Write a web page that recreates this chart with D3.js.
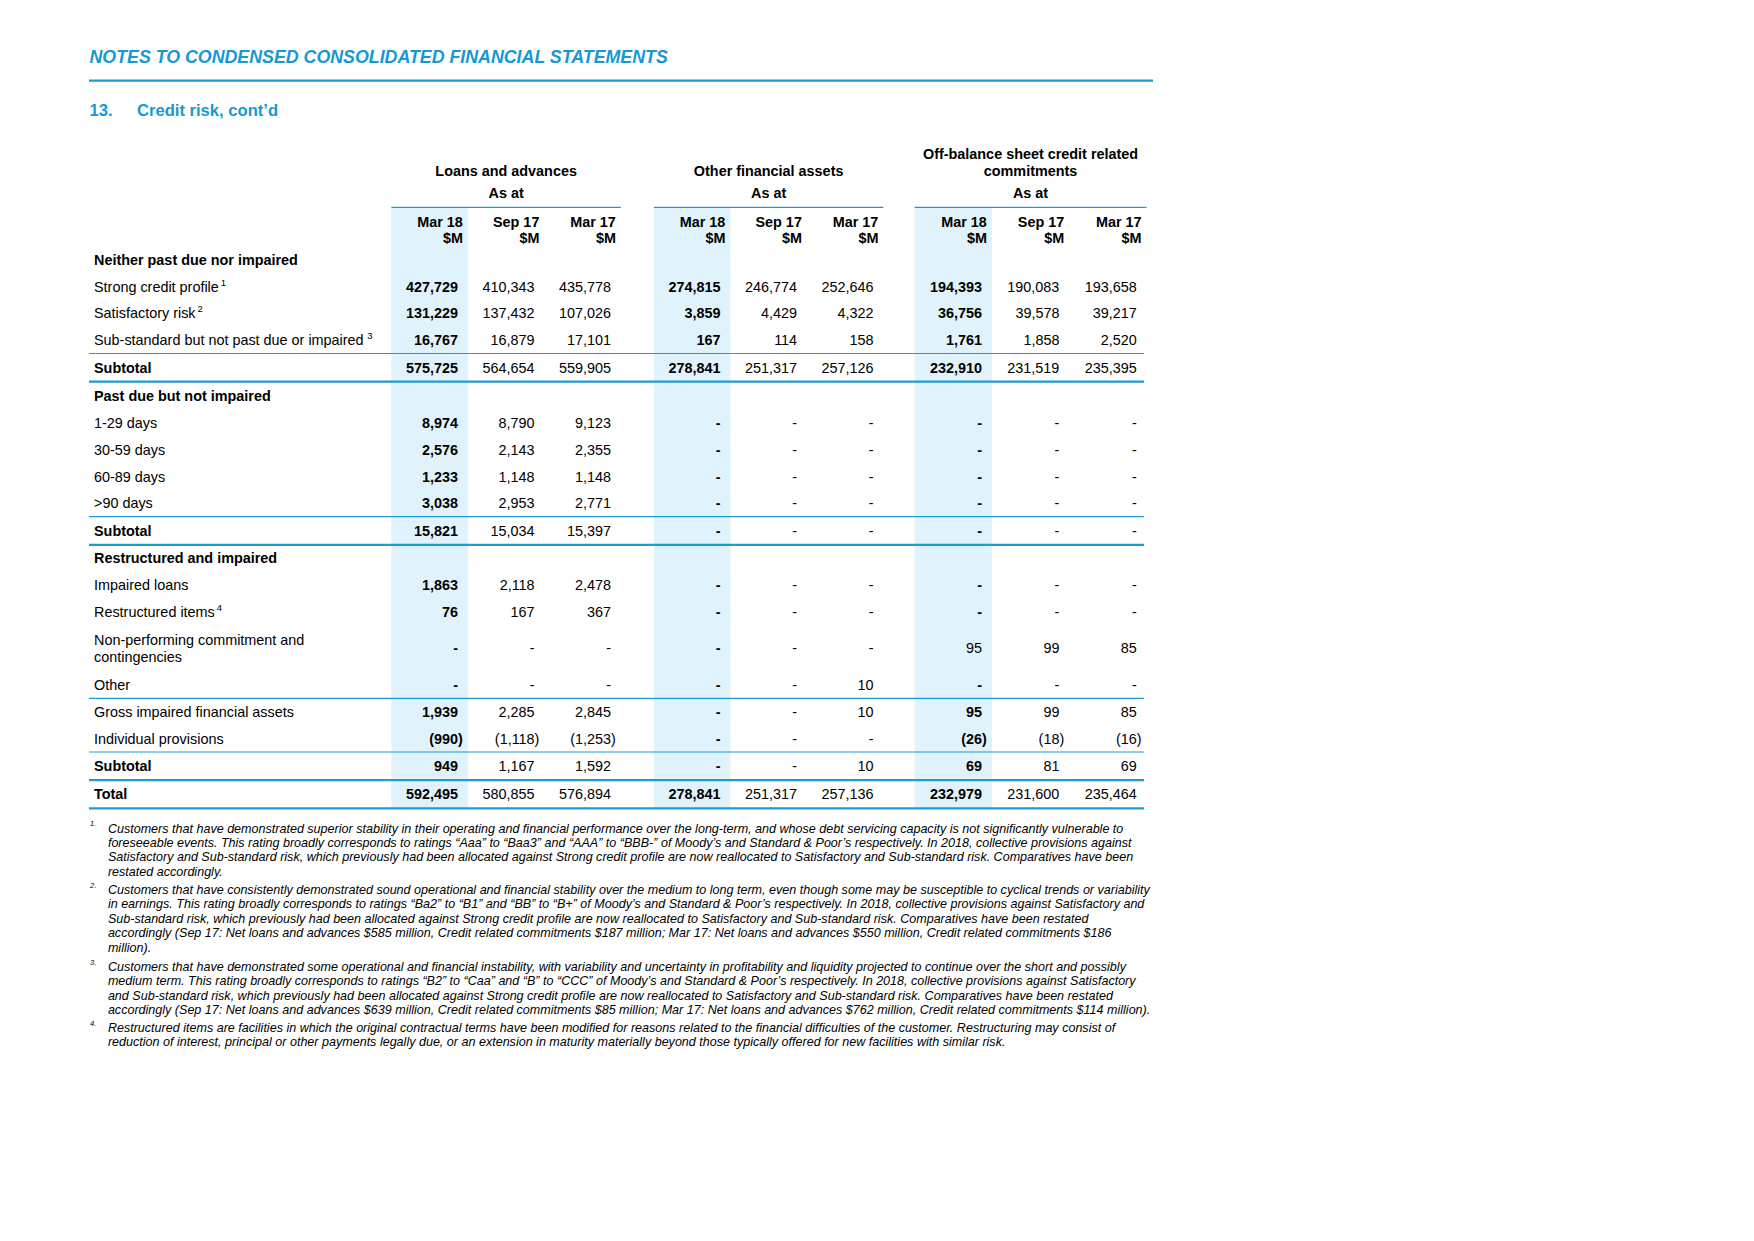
<!DOCTYPE html>
<html><head><meta charset="utf-8">
<script src="https://cdn.jsdelivr.net/npm/d3@7"></script>
<style>body{margin:0;background:#fff}svg{display:block}</style>
</head><body><svg id="chart"></svg>
<script>
// ---------------- DATA ----------------
const pageHeader = "NOTES TO CONDENSED CONSOLIDATED FINANCIAL STATEMENTS";
const noteNumber = "13.";
const noteTitle = "Credit risk, cont’d";
const groupTitles = [["Loans and advances"], ["Other financial assets"], ["Off-balance sheet credit related", "commitments"]];
const asAtLabel = "As at";
const periods = ["Mar 18", "Sep 17", "Mar 17"];
const unitLabel = "$M";

const rowLabels = [
  "Neither past due nor impaired", "Strong credit profile", "Satisfactory risk",
  "Sub-standard but not past due or impaired", "Subtotal",
  "Past due but not impaired", "1-29 days", "30-59 days", "60-89 days", ">90 days", "Subtotal",
  "Restructured and impaired", "Impaired loans", "Restructured items",
  "Non-performing commitment and|contingencies", "Other",
  "Gross impaired financial assets", "Individual provisions", "Subtotal", "Total"
];
const rowFootnoteRefs = ["", "1", "2", " 3", "", "", "", "", "", "", "", "", "", "4", "", "", "", "", "", ""];
const boldRows = [0, 4, 5, 10, 11, 18, 19];

// "" = blank cell, null = dash
const loansMar18 = ["", 427729, 131229, 16767, 575725, "", 8974, 2576, 1233, 3038, 15821, "", 1863, 76, null, null, 1939, -990, 949, 592495];
const loansSep17 = ["", 410343, 137432, 16879, 564654, "", 8790, 2143, 1148, 2953, 15034, "", 2118, 167, null, null, 2285, -1118, 1167, 580855];
const loansMar17 = ["", 435778, 107026, 17101, 559905, "", 9123, 2355, 1148, 2771, 15397, "", 2478, 367, null, null, 2845, -1253, 1592, 576894];
const otherMar18 = ["", 274815, 3859, 167, 278841, "", null, null, null, null, null, "", null, null, null, null, null, null, null, 278841];
const otherSep17 = ["", 246774, 4429, 114, 251317, "", null, null, null, null, null, "", null, null, null, null, null, null, null, 251317];
const otherMar17 = ["", 252646, 4322, 158, 257126, "", null, null, null, null, null, "", null, null, null, 10, 10, null, 10, 257136];
const offMar18 = ["", 194393, 36756, 1761, 232910, "", null, null, null, null, null, "", null, null, 95, null, 95, -26, 69, 232979];
const offSep17 = ["", 190083, 39578, 1858, 231519, "", null, null, null, null, null, "", null, null, 99, null, 99, -18, 81, 231600];
const offMar17 = ["", 193658, 39217, 2520, 235395, "", null, null, null, null, null, "", null, null, 85, null, 85, -16, 69, 235464];
const seriesByGroup = [[loansMar18, loansSep17, loansMar17], [otherMar18, otherSep17, otherMar17], [offMar18, offSep17, offMar17]];
// cells of the Mar 18 column printed in regular weight: [group, row]
const regularWeightCells = [[2, 14]];

const footnotes = [
  ["Customers that have demonstrated superior stability in their operating and financial performance over the long-term, and whose debt servicing capacity is not significantly vulnerable to",
   "foreseeable events. This rating broadly corresponds to ratings “Aaa” to “Baa3” and “AAA” to “BBB-” of Moody’s and Standard & Poor’s respectively. In 2018, collective provisions against",
   "Satisfactory and Sub-standard risk, which previously had been allocated against Strong credit profile are now reallocated to Satisfactory and Sub-standard risk. Comparatives have been",
   "restated accordingly."],
  ["Customers that have consistently demonstrated sound operational and financial stability over the medium to long term, even though some may be susceptible to cyclical trends or variability",
   "in earnings. This rating broadly corresponds to ratings “Ba2” to “B1” and “BB” to “B+” of Moody’s and Standard & Poor’s respectively. In 2018, collective provisions against Satisfactory and",
   "Sub-standard risk, which previously had been allocated against Strong credit profile are now reallocated to Satisfactory and Sub-standard risk. Comparatives have been restated",
   "accordingly (Sep 17: Net loans and advances $585 million, Credit related commitments $187 million; Mar 17: Net loans and advances $550 million, Credit related commitments $186",
   "million)."],
  ["Customers that have demonstrated some operational and financial instability, with variability and uncertainty in profitability and liquidity projected to continue over the short and possibly",
   "medium term. This rating broadly corresponds to ratings “B2” to “Caa” and “B” to “CCC” of Moody’s and Standard & Poor’s respectively. In 2018, collective provisions against Satisfactory",
   "and Sub-standard risk, which previously had been allocated against Strong credit profile are now reallocated to Satisfactory and Sub-standard risk. Comparatives have been restated",
   "accordingly (Sep 17: Net loans and advances $639 million, Credit related commitments $85 million; Mar 17: Net loans and advances $762 million, Credit related commitments $114 million)."],
  ["Restructured items are facilities in which the original contractual terms have been modified for reasons related to the financial difficulties of the customer. Restructuring may consist of",
   "reduction of interest, principal or other payments legally due, or an extension in maturity materially beyond those typically offered for new facilities with similar risk."]
];

// ---------------- LAYOUT ----------------
const W = 1754, H = 1241;
const FONT = "'Liberation Sans', Arial, Helvetica, sans-serif";
const BLUE = "#1598d4";
const LINE = "#1e9bd0";
const SHADE = "#e0f2fb";
const FS = 14.4;

const svg = d3.select("#chart").attr("width", W).attr("height", H).style("font-family", FONT);
svg.append("rect").attr("width", W).attr("height", H).attr("fill", "#fff");

// Page header
svg.append("text").attr("x", 89.5).attr("y", 62.8).attr("fill", BLUE)
  .attr("font-size", 17.8).attr("font-weight", "bold").attr("font-style", "italic").text(pageHeader);
svg.append("line").attr("x1", 89).attr("x2", 1153).attr("y1", 80.7).attr("y2", 80.7)
  .attr("stroke", LINE).attr("stroke-width", 2.2);
svg.append("text").attr("x", 89.5).attr("y", 116.3).attr("fill", BLUE)
  .attr("font-size", 16.6).attr("font-weight", "bold").text(noteNumber);
svg.append("text").attr("x", 137).attr("y", 116.3).attr("fill", BLUE)
  .attr("font-size", 16.6).attr("font-weight", "bold").text(noteTitle);

// Column scales (one band scale per group)
const groupLeft = [391.4, 653.9, 914.6];
const colW = [76.5, 76.5, 77.3];
const xScales = groupLeft.map((l, g) => d3.scaleBand().domain(periods).range([l, l + 3 * colW[g]]).paddingInner(0).paddingOuter(0));

// Row scale: cumulative row heights
const rowHeights = rowLabels.map((lab, i) => {
  if (lab.includes("|")) return 46.7;
  if ([4, 5, 10, 18, 19].includes(i)) return 28.2;
  if ([3, 9, 15, 17].includes(i)) return 27.0;
  return 26.6;
});
const tableTop = 246.7;
const rowTops = [tableTop];
rowHeights.forEach((h, i) => rowTops.push(rowTops[i] + h));
const yTop = d3.scaleOrdinal().domain(d3.range(rowLabels.length + 1)).range(rowTops);
const yMid = i => yTop(i) + rowHeights[i] / 2;
const tableLeft = 89, tableRight = 1144;
const headerLine = 207.3;
const BASE = 5.1; // center -> baseline offset

// Shading for current period columns
xScales.forEach(xs => {
  svg.append("rect").attr("x", xs(periods[0])).attr("width", xs.bandwidth())
    .attr("y", headerLine).attr("height", yTop(rowLabels.length) - headerLine).attr("fill", SHADE);
});

// Group headers
xScales.forEach((xs, g) => {
  const [r0, r1] = xs.range();
  const cx = (r0 + r1) / 2;
  const lines = groupTitles[g];
  lines.forEach((t, k) => {
    svg.append("text").attr("x", cx).attr("y", 171 - (lines.length - 1 - k) * 17 + BASE)
      .attr("text-anchor", "middle").attr("font-size", FS).attr("font-weight", "bold").text(t);
  });
  svg.append("text").attr("x", cx).attr("y", 193.3 + BASE).attr("text-anchor", "middle")
    .attr("font-size", FS).attr("font-weight", "bold").text(asAtLabel);
  svg.append("line").attr("x1", r0).attr("x2", r1).attr("y1", headerLine).attr("y2", headerLine)
    .attr("stroke", LINE).attr("stroke-width", 1.2);
  periods.forEach(p => {
    const xr = xs(p) + xs.bandwidth() - 5;
    svg.append("text").attr("x", xr).attr("y", 221.7 + BASE).attr("text-anchor", "end")
      .attr("font-size", FS).attr("font-weight", "bold").text(p);
    svg.append("text").attr("x", xr).attr("y", 238.3 + BASE).attr("text-anchor", "end")
      .attr("font-size", FS).attr("font-weight", "bold").text(unitLabel);
  });
});

// Row lines
const thinAbove = [4, 10, 16, 18];
const thickAbove = [5, 11, 19, 20];
thinAbove.forEach(i => svg.append("line").attr("x1", tableLeft).attr("x2", tableRight)
  .attr("y1", yTop(i)).attr("y2", yTop(i)).attr("stroke", LINE).attr("stroke-width", 1.2));
thickAbove.forEach(i => svg.append("line").attr("x1", tableLeft).attr("x2", tableRight)
  .attr("y1", yTop(i)).attr("y2", yTop(i)).attr("stroke", LINE).attr("stroke-width", 2.2));

// Row labels
rowLabels.forEach((lab, i) => {
  const bold = boldRows.includes(i);
  const parts = lab.split("|");
  parts.forEach((p, k) => {
    const y = yMid(i) + (k - (parts.length - 1) / 2) * 17 + BASE;
    const t = svg.append("text").attr("x", 94).attr("y", y).attr("font-size", FS)
      .attr("font-weight", bold ? "bold" : "normal").text(p);
    if (k === parts.length - 1 && rowFootnoteRefs[i]) {
      const ref = rowFootnoteRefs[i];
      t.append("tspan").attr("font-size", 9.5).attr("dx", ref.startsWith(" ") ? 1 : 2).attr("dy", -6)
        .text(ref.startsWith(" ") ? "\u00a0" + ref.trim() : ref);
    }
  });
});

// Values
const fmt = d3.format(",");
const measure = svg.append("text").attr("font-size", FS).attr("font-weight", "bold").text(")");
const parenW = measure.node().getComputedTextLength();
measure.remove();

seriesByGroup.forEach((series, g) => {
  const xs = xScales[g];
  series.forEach((vals, c) => {
    const xr = xs(periods[c]) + xs.bandwidth() - 5 - parenW;
    vals.forEach((v, i) => {
      if (v === "") return;
      let bold = c === 0 && !regularWeightCells.some(([gg, rr]) => gg === g && rr === i);
      let txt, x = xr;
      if (v === null) txt = "-";
      else if (v < 0) { txt = "(" + fmt(-v) + ")"; x = xr + parenW; }
      else txt = fmt(v);
      svg.append("text").attr("x", x).attr("y", yMid(i) + BASE).attr("text-anchor", "end")
        .attr("font-size", FS).attr("font-weight", bold ? "bold" : "normal").text(txt);
    });
  });
});

// Footnotes
const fnGroup = svg.append("g").attr("font-style", "italic");
const probe = fnGroup.append("text").attr("font-size", 12).text(footnotes[2][3]);
const fnFS = 12 * 1044 / probe.node().getComputedTextLength();
probe.remove();
const fnStarts = [828.3, 889.7, 966.7, 1027.7];
const fnLead = 14.4;
footnotes.forEach((lines, f) => {
  fnGroup.append("text").attr("x", 90).attr("y", fnStarts[f] - 2).attr("font-size", 7.5).text(String(f + 1) + ".");
  lines.forEach((ln, k) => {
    fnGroup.append("text").attr("x", 107.9).attr("y", fnStarts[f] + k * fnLead + 4.3)
      .attr("font-size", fnFS).text(ln);
  });
});
</script></body></html>
